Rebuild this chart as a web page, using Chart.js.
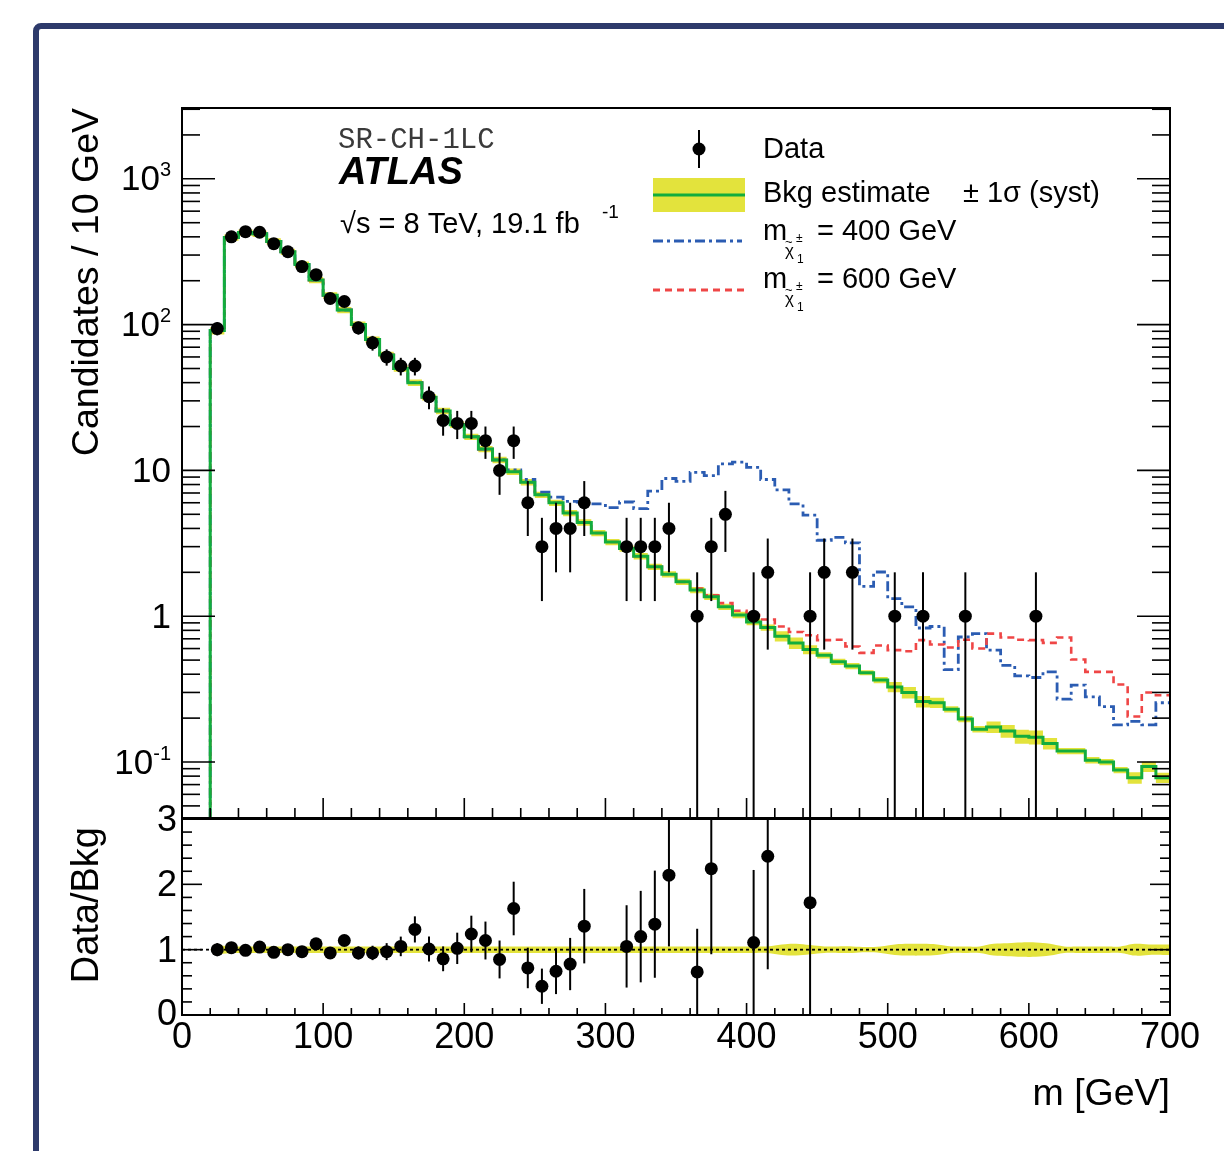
<!DOCTYPE html>
<html>
<head>
<meta charset="utf-8">
<title>SR-CH-1LC</title>
<script src="https://cdn.jsdelivr.net/npm/chart.js@4.4.1/dist/chart.umd.min.js"></script>
<style>
  html, body { margin: 0; padding: 0; background: #fff; overflow: hidden; }
  #wrap { position: relative; width: 1224px; height: 1151px; }
  #frame { position: absolute; left: 33px; top: 23px; width: 1400px; height: 1400px;
           border: 6px solid #2d3a6b; border-radius: 8px; }
  canvas { position: absolute; left: 0; top: 0; }
</style>
</head>
<body>
<div id="wrap">
  <div id="frame"></div>
  <canvas id="mainChart" width="1224" height="1151"></canvas>
  <canvas id="ratioChart" width="1224" height="1151"></canvas>
</div>
<script>
// binning: 10 GeV bins from 20 to 700 GeV
const binLow = 20;
const binWidth = 10;

// background estimate per bin
const bkg = [91, 396, 428, 420, 372, 316, 258, 202, 159, 126,
             100, 79, 62, 50, 40, 31.7, 25.6, 20.6, 17, 14,
             11.8, 9.8, 8.3, 6.8, 6.0, 5.1, 4.4, 3.72, 3.23, 2.91,
             2.58, 2.18, 1.94, 1.72, 1.51, 1.36, 1.16, 1.02, 0.914, 0.837,
             0.73, 0.655, 0.59, 0.54, 0.487, 0.455, 0.41, 0.365, 0.327, 0.30,
             0.26, 0.255, 0.23, 0.197, 0.168, 0.174, 0.163, 0.15, 0.148, 0.134,
             0.119, 0.119, 0.103, 0.10, 0.088, 0.078, 0.093, 0.078];
// relative systematic uncertainty of the background
const bkgSyst = [0.06, 0.05, 0.05, 0.05, 0.05, 0.05, 0.05, 0.05, 0.05, 0.05,
                 0.05, 0.05, 0.05, 0.05, 0.05, 0.05, 0.05, 0.05, 0.05, 0.05,
                 0.05, 0.05, 0.05, 0.05, 0.05, 0.05, 0.05, 0.05, 0.05, 0.05,
                 0.05, 0.05, 0.05, 0.05, 0.05, 0.05, 0.05, 0.05, 0.05, 0.05,
                 0.08, 0.09, 0.07, 0.05, 0.05, 0.05, 0.04, 0.05, 0.08, 0.09,
                 0.09, 0.08, 0.05, 0.05, 0.05, 0.09, 0.10, 0.11, 0.11, 0.09,
                 0.05, 0.05, 0.05, 0.05, 0.05, 0.09, 0.08, 0.08];
// bkg + signal, m(chargino) = 400 GeV
const sig400 = [91, 396, 428, 420, 372, 316, 258, 202, 159, 126,
                100, 79, 62, 50, 40, 31.7, 25.6, 20.6, 17, 14,
                11.8, 10.1, 8.66, 7.1, 6.56, 6.13, 6.07, 5.9, 5.55, 6.07,
                5.47, 7.2, 8.8, 8.4, 9.7, 9.2, 11.1, 11.4, 10.5, 8.66,
                7.36, 5.9, 4.93, 3.32, 3.47, 3.18, 1.6, 2.01, 1.32, 1.16,
                0.83, 0.85, 0.43, 0.72, 0.76, 0.585, 0.46, 0.39, 0.38, 0.415,
                0.27, 0.337, 0.28, 0.24, 0.18, 0.19, 0.18, 0.255];
// bkg + signal, m(chargino) = 600 GeV
const sig600 = [91, 396, 428, 420, 372, 316, 258, 202, 159, 126,
                100, 79, 62, 50, 40, 31.7, 25.6, 20.6, 17, 14,
                11.8, 9.8, 8.3, 6.8, 6.0, 5.1, 4.4, 3.72, 3.23, 2.91,
                2.58, 2.18, 1.94, 1.72, 1.55, 1.39, 1.23, 1.09, 1.02, 0.95,
                0.85, 0.78, 0.74, 0.685, 0.69, 0.62, 0.56, 0.63, 0.585, 0.575,
                0.685, 0.64, 0.61, 0.69, 0.60, 0.76, 0.715, 0.69, 0.685, 0.656,
                0.715, 0.505, 0.415, 0.415, 0.34, 0.205, 0.30, 0.287];

// observed data
const dataMass = [25, 35, 45, 55, 65, 75, 85, 95, 105, 115,
                  125, 135, 145, 155, 165, 175, 185, 195, 205, 215,
                  225, 235, 245, 255, 265, 275, 285,
                  315, 325, 335, 345, 365, 375, 385, 405, 415, 445, 455, 475, 505, 525, 555, 605];
const dataCount = [94, 400, 434, 430, 359, 316, 250, 220, 151, 144,
                   95, 75, 60, 52, 52, 32, 22, 21, 21, 16,
                   10, 16, 6, 3, 4, 4, 6,
                   3, 3, 3, 4, 1, 3, 5, 1, 2, 1, 2, 2, 1, 1, 1, 1];
const dataErr = [9.7, 20, 20.8, 20.7, 18.9, 17.8, 15.8, 14.8, 12.3, 12,
                 9.7, 8.7, 7.7, 7.2, 7.2, 5.7, 4.7, 4.6, 4.6, 4,
                 3.2, 4, 2.45, 1.73, 2, 2, 2.45,
                 1.73, 1.73, 1.73, 2, 1, 1.73, 2.24, 1, 1.41, 1, 1.41, 1.41, 1, 1, 1, 1];

// data / bkg
const ratioMass = [25, 35, 45, 55, 65, 75, 85, 95, 105, 115,
                   125, 135, 145, 155, 165, 175, 185, 195, 205, 215,
                   225, 235, 245, 255, 265, 275, 285,
                   315, 325, 335, 345, 365, 375, 405, 415, 445];
const ratioVal = [1.0, 1.03, 0.99, 1.04, 0.96, 1.0, 0.97, 1.09, 0.95, 1.14,
                  0.95, 0.95, 0.97, 1.05, 1.31, 1.01, 0.86, 1.02, 1.24, 1.14,
                  0.85, 1.63, 0.72, 0.44, 0.67, 0.78, 1.36,
                  1.05, 1.2, 1.39, 2.14, 0.66, 2.24, 1.11, 2.43, 1.72];
const ratioErr = [0.10, 0.05, 0.05, 0.05, 0.06, 0.06, 0.06, 0.07, 0.08, 0.08,
                  0.10, 0.11, 0.13, 0.15, 0.20, 0.19, 0.19, 0.24, 0.28, 0.29,
                  0.29, 0.41, 0.31, 0.27, 0.35, 0.40, 0.57,
                  0.63, 0.70, 0.82, 1.09, 0.66, 1.31, 1.11, 1.73, 1.72];

// axes
const xMin = 0, xMax = 700;
const xTicks = [0, 100, 200, 300, 400, 500, 600, 700];
const xMinorStep = 20;
const yMainMin = 0.0413, yMainMax = 3060;
const yMainTicks = [0.1, 1, 10, 100, 1000];
const yMainLabels = [['10', '-1'], ['1', ''], ['10', ''], ['10', '2'], ['10', '3']];
const yRatioTicks = [0, 1, 2, 3];
const yRatioMinorStep = 0.2;

const SANS = '"Liberation Sans", Arial, Helvetica, sans-serif';
const GREEN = '#12ad3d';
const YELLOW = '#e3e33c';
const BLUE = '#2b5cb2';
const RED = '#ef4646';

function histPoints(vals) {
  const pts = [{ x: binLow, y: 1e-6 }];
  vals.forEach((v, i) => pts.push({ x: binLow + i * binWidth, y: v }));
  pts.push({ x: binLow + vals.length * binWidth, y: vals[vals.length - 1] });
  return pts;
}

// smooth band around 1 through the bin centres (ratio panel)
function bandPoints(vals) {
  const pts = [{ x: binLow, y: 1 }];
  vals.forEach((v, i) => pts.push({ x: binLow + (i + 0.5) * binWidth, y: v }));
  pts.push({ x: binLow + vals.length * binWidth, y: vals[vals.length - 1] });
  return pts;
}

function line(ctx, x1, y1, x2, y2) {
  ctx.beginPath();
  ctx.moveTo(x1, y1);
  ctx.lineTo(x2, y2);
  ctx.stroke();
}

function text(ctx, str, x, y, font, align) {
  ctx.font = font;
  ctx.textAlign = align || 'left';
  ctx.textBaseline = 'middle';
  ctx.fillText(str, x, y);
}

const errorBars = {
  id: 'errorBars',
  afterDatasetsDraw(chart) {
    const { ctx, chartArea: a, scales: { x, y } } = chart;
    ctx.save();
    ctx.beginPath();
    ctx.rect(a.left, a.top, a.right - a.left, a.bottom - a.top);
    ctx.clip();
    ctx.strokeStyle = '#000';
    ctx.lineWidth = 2;
    chart.data.datasets.forEach(ds => {
      if (!ds.errors) return;
      ds.data.forEach((p, i) => {
        const e = ds.errors[i];
        const px = x.getPixelForValue(p.x);
        const lo = p.y - e;
        const yLo = (y.type === 'logarithmic' && lo <= 0) ? a.bottom : y.getPixelForValue(lo);
        line(ctx, px, yLo, px, y.getPixelForValue(p.y + e));
      });
    });
    ctx.restore();
  }
};

const mainDecor = {
  id: 'mainDecor',
  afterDraw(chart) {
    const { ctx, chartArea: a, scales: { x, y } } = chart;
    ctx.save();
    ctx.strokeStyle = '#000';
    ctx.fillStyle = '#000';
    ctx.lineWidth = 2;
    ctx.strokeRect(a.left, a.top, a.right - a.left, a.bottom - a.top);

    ctx.lineWidth = 1.6;
    for (let m = xMin; m <= xMax; m += xMinorStep) {
      const px = x.getPixelForValue(m);
      line(ctx, px, a.bottom, px, a.bottom - (xTicks.includes(m) ? 20 : 10));
    }
    for (let d = -2; d <= 3; d++) {
      for (let k = 1; k <= 9; k++) {
        const v = k * Math.pow(10, d);
        if (v < y.min || v > y.max) continue;
        const py = y.getPixelForValue(v);
        const len = k === 1 ? 33 : 18;
        line(ctx, a.left, py, a.left + len, py);
        line(ctx, a.right, py, a.right - len, py);
      }
    }

    // y tick labels, 10^n style
    yMainTicks.forEach((v, i) => {
      const py = y.getPixelForValue(v);
      const [base, exp] = yMainLabels[i];
      ctx.font = '20px ' + SANS;
      const we = exp ? ctx.measureText(exp).width : 0;
      ctx.font = '35px ' + SANS;
      const wb = ctx.measureText(base).width;
      const x0 = a.left - 11 - we - wb;
      text(ctx, base, x0, py + 2, '35px ' + SANS);
      if (exp) text(ctx, exp, x0 + wb, py - 8, '20px ' + SANS);
    });

    // axis title
    ctx.save();
    ctx.translate(88, a.top);
    ctx.rotate(-Math.PI / 2);
    text(ctx, 'Candidates / 10 GeV', 0, 0, '37.5px ' + SANS, 'right');
    ctx.restore();

    // labels
    ctx.fillStyle = '#3a3a3a';
    text(ctx, 'SR-CH-1LC', 338, 140, '29px "Liberation Mono", "DejaVu Sans Mono", monospace');
    ctx.fillStyle = '#000';
    text(ctx, 'ATLAS', 339, 174, 'italic bold 38px ' + SANS);
    text(ctx, '\u221As = 8 TeV, 19.1 fb', 340, 225, '29px ' + SANS);
    text(ctx, '-1', 602, 213, '19px ' + SANS);

    // legend
    ctx.fillStyle = '#000';
    ctx.beginPath();
    ctx.arc(699, 149, 6.5, 0, 2 * Math.PI);
    ctx.fill();
    ctx.lineWidth = 2;
    line(ctx, 699, 130, 699, 168);
    text(ctx, 'Data', 763, 150, '29px ' + SANS);

    ctx.fillStyle = YELLOW;
    ctx.fillRect(653, 178, 92, 34);
    ctx.strokeStyle = GREEN;
    ctx.lineWidth = 3;
    line(ctx, 653, 195, 745, 195);
    ctx.fillStyle = '#000';
    text(ctx, 'Bkg estimate', 763, 194, '29px ' + SANS);
    text(ctx, '\u00B1 1\u03C3 (syst)', 963, 194, '29px ' + SANS);

    ctx.strokeStyle = BLUE;
    ctx.lineWidth = 3;
    ctx.setLineDash([10, 4, 3, 4]);
    line(ctx, 653, 241, 742, 241);
    ctx.strokeStyle = RED;
    ctx.setLineDash([7, 5]);
    line(ctx, 653, 290, 745, 290);
    ctx.setLineDash([]);

    [[232, '= 400 GeV'], [280, '= 600 GeV']].forEach(([yy, lab]) => {
      text(ctx, 'm', 763, yy, '29px ' + SANS);
      text(ctx, '~', 785, yy + 10, '13px ' + SANS);
      text(ctx, '\u03C7', 785, yy + 19, '17px ' + SANS);
      text(ctx, '\u00B1', 796, yy + 7, '12px ' + SANS);
      text(ctx, '1', 797, yy + 28, '12px ' + SANS);
      text(ctx, lab, 817, yy, '29px ' + SANS);
    });
    ctx.restore();
  }
};

const ratioDecor = {
  id: 'ratioDecor',
  afterDraw(chart) {
    const { ctx, chartArea: a, scales: { x, y } } = chart;
    ctx.save();
    ctx.strokeStyle = '#000';
    ctx.fillStyle = '#000';
    ctx.lineWidth = 2;
    ctx.strokeRect(a.left, a.top, a.right - a.left, a.bottom - a.top);

    ctx.lineWidth = 1.6;
    for (let m = xMin; m <= xMax; m += xMinorStep) {
      const px = x.getPixelForValue(m);
      line(ctx, px, a.bottom, px, a.bottom - (xTicks.includes(m) ? 12 : 7));
    }
    for (let k = 0; k <= 15; k++) {
      const v = k * yRatioMinorStep;
      const py = y.getPixelForValue(v);
      const len = (k % 5 === 0) ? 20 : 10;
      line(ctx, a.left, py, a.left + len, py);
      line(ctx, a.right, py, a.right - len, py);
    }

    yRatioTicks.forEach(v => {
      const py = y.getPixelForValue(v);
      text(ctx, String(v), a.left - 5, v === 0 ? py : py + 2, '36px ' + SANS, 'right');
    });
    xTicks.forEach(v => {
      text(ctx, String(v), x.getPixelForValue(v), a.bottom + 23, '36px ' + SANS, 'center');
    });

    ctx.save();
    ctx.translate(88, a.top + 8);
    ctx.rotate(-Math.PI / 2);
    text(ctx, 'Data/Bkg', 0, 0, '38px ' + SANS, 'right');
    ctx.restore();

    text(ctx, 'm [GeV]', a.right, 1095, '37.5px ' + SANS, 'right');
    ctx.restore();
  }
};

const stepLine = (vals, color, width, dash, order) => ({
  data: histPoints(vals),
  stepped: true,
  borderColor: color,
  borderWidth: width,
  borderDash: dash,
  pointRadius: 0,
  fill: false,
  order: order
});

new Chart(document.getElementById('mainChart'), {
  type: 'line',
  data: {
    datasets: [
      {
        data: dataMass.map((m, i) => ({ x: m, y: dataCount[i] })),
        errors: dataErr,
        showLine: false,
        pointRadius: 6.5,
        pointBackgroundColor: '#000',
        pointBorderWidth: 0,
        order: 0
      },
      stepLine(bkg, GREEN, 3, [], 1),
      stepLine(sig600, RED, 2.6, [7, 5], 2),
      stepLine(sig400, BLUE, 2.8, [10, 4, 3, 4], 3),
      {
        data: histPoints(bkg.map((v, i) => v * (1 + bkgSyst[i]))),
        stepped: true, borderWidth: 0, pointRadius: 0,
        backgroundColor: YELLOW, fill: '+1', order: 10
      },
      {
        data: histPoints(bkg.map((v, i) => v * (1 - bkgSyst[i]))),
        stepped: true, borderWidth: 0, pointRadius: 0,
        fill: false, order: 11
      }
    ]
  },
  options: {
    responsive: false,
    animation: false,
    devicePixelRatio: 1,
    layout: { padding: { left: 182, right: 54, top: 108, bottom: 333 } },
    plugins: { legend: { display: false }, tooltip: { enabled: false } },
    scales: {
      x: { type: 'linear', min: xMin, max: xMax, display: false },
      y: { type: 'logarithmic', min: yMainMin, max: yMainMax, display: false }
    }
  },
  plugins: [errorBars, mainDecor]
});

new Chart(document.getElementById('ratioChart'), {
  type: 'line',
  data: {
    datasets: [
      {
        data: ratioMass.map((m, i) => ({ x: m, y: ratioVal[i] })),
        errors: ratioErr,
        showLine: false,
        pointRadius: 6.5,
        pointBackgroundColor: '#000',
        pointBorderWidth: 0,
        order: 0
      },
      {
        data: [{ x: xMin, y: 1 }, { x: xMax, y: 1 }],
        borderColor: '#000', borderWidth: 1.8, borderDash: [3, 3],
        pointRadius: 0, fill: false, order: 1
      },
      {
        data: bandPoints(bkgSyst.map(s => 1 + s)),
        tension: 0.4, borderWidth: 0, pointRadius: 0,
        backgroundColor: YELLOW, fill: '+1', order: 10
      },
      {
        data: bandPoints(bkgSyst.map(s => 1 - s)),
        tension: 0.4, borderWidth: 0, pointRadius: 0,
        fill: false, order: 11
      }
    ]
  },
  options: {
    responsive: false,
    animation: false,
    devicePixelRatio: 1,
    layout: { padding: { left: 182, right: 54, top: 819, bottom: 136 } },
    plugins: { legend: { display: false }, tooltip: { enabled: false } },
    scales: {
      x: { type: 'linear', min: xMin, max: xMax, display: false },
      y: { type: 'linear', min: 0, max: 3, display: false }
    }
  },
  plugins: [errorBars, ratioDecor]
});
</script>
</body>
</html>
